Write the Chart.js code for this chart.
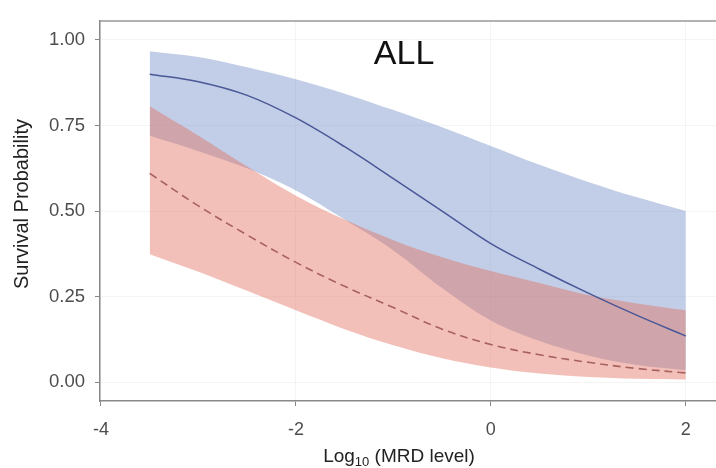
<!DOCTYPE html>
<html>
<head>
<meta charset="utf-8">
<script src="https://cdn.jsdelivr.net/npm/chart.js@4"></script>
<style>
html, body { margin: 0; padding: 0; background: #fff; }
</style>
</head>
<body>
<canvas id="mrdChart" width="716" height="468"></canvas>
<script>
// log10 MRD level on x, survival probability on y
const mrdLevels = [-3.5, -3, -2.5, -2, -1.5, -1, -0.5, 0, 0.5, 1, 1.5, 2];

// blue group (solid line)
const blueFit  = [0.90, 0.878, 0.838, 0.772, 0.688, 0.595, 0.50, 0.405, 0.33, 0.26, 0.195, 0.135];
const blueLow  = [0.72, 0.675, 0.625, 0.56, 0.475, 0.385, 0.275, 0.18, 0.12, 0.078, 0.05, 0.035];
const blueHigh = [0.967, 0.95, 0.92, 0.885, 0.843, 0.795, 0.745, 0.69, 0.635, 0.585, 0.54, 0.50];

// red group (dashed line)
const redFit  = [0.61, 0.515, 0.43, 0.35, 0.28, 0.218, 0.155, 0.11, 0.08, 0.058, 0.04, 0.027];
const redLow  = [0.374, 0.323, 0.267, 0.21, 0.155, 0.108, 0.07, 0.043, 0.025, 0.015, 0.01, 0.008];
const redHigh = [0.806, 0.72, 0.63, 0.545, 0.475, 0.415, 0.365, 0.325, 0.29, 0.255, 0.23, 0.21];

const xTicks = [-4, -2, 0, 2];
const yTicks = [0, 0.25, 0.5, 0.75, 1];

const pts = ys => mrdLevels.map((x, i) => ({ x: x, y: ys[i] }));

const band = { borderWidth: 0, pointRadius: 0, tension: 0.35 };

// panel border on top, title text, axis titles
const extras = {
  id: "extras",
  afterDraw(chart) {
    const ctx = chart.ctx;
    const area = chart.chartArea;
    const xs = chart.scales.x, ys = chart.scales.y;
    ctx.save();
    ctx.strokeStyle = "#999";
    ctx.lineWidth = 1.5;
    ctx.beginPath();
    ctx.moveTo(area.left, area.top);
    ctx.lineTo(area.right, area.top);
    ctx.stroke();

    ctx.fillStyle = "#111";
    ctx.font = "34px 'Liberation Sans', Arial, sans-serif";
    ctx.textAlign = "center";
    ctx.textBaseline = "alphabetic";
    ctx.fillText("ALL", xs.getPixelForValue(-0.89), ys.getPixelForValue(0.929));

    // y title
    ctx.fillStyle = "#222";
    ctx.font = "20px 'Liberation Sans', Arial, sans-serif";
    ctx.save();
    ctx.translate(22, (area.top + area.bottom) / 2 - 7);
    ctx.rotate(-Math.PI / 2);
    ctx.textBaseline = "middle";
    ctx.fillText("Survival Probability", 0, 0);
    ctx.restore();

    // Log10 (MRD level)
    const big = "19px 'Liberation Sans', Arial, sans-serif";
    const small = "13px 'Liberation Sans', Arial, sans-serif";
    ctx.textAlign = "left";
    ctx.font = big;
    const w1 = ctx.measureText("Log").width;
    const w3 = ctx.measureText(" (MRD level)").width;
    ctx.font = small;
    const w2 = ctx.measureText("10").width;
    const cx = (area.left + area.right) / 2 - 9;
    const base = 462;
    let x0 = cx - (w1 + w2 + w3) / 2;
    ctx.font = big;
    ctx.fillText("Log", x0, base);
    ctx.font = small;
    ctx.fillText("10", x0 + w1, base + 4);
    ctx.font = big;
    ctx.fillText(" (MRD level)", x0 + w1 + w2, base);
    ctx.restore();
  }
};

const ctx = document.getElementById("mrdChart").getContext("2d");

new Chart(ctx, {
  type: "line",
  data: {
    datasets: [
      Object.assign({ data: pts(blueLow), fill: false, order: 5 }, band),
      Object.assign({ data: pts(blueHigh), fill: 0, backgroundColor: "rgba(115,143,200,0.44)", order: 4 }, band),
      Object.assign({ data: pts(redLow), fill: false, order: 3 }, band),
      Object.assign({ data: pts(redHigh), fill: 2, backgroundColor: "rgba(225,108,90,0.43)", order: 2 }, band),
      {
        data: pts(blueFit), borderColor: "#4a5796", borderWidth: 1.5,
        pointRadius: 0, fill: false, tension: 0.35, order: 1
      },
      {
        data: pts(redFit), borderColor: "#a8625e", borderWidth: 1.6, borderDash: [8, 5],
        pointRadius: 0, fill: false, tension: 0.35, order: 0
      }
    ]
  },
  options: {
    responsive: false,
    animation: false,
    layout: { padding: { left: 0, right: 0, top: 11, bottom: 0 } },
    scales: {
      x: {
        type: "linear",
        min: -4.01,
        max: 2.31,
        afterBuildTicks: s => { s.ticks = xTicks.map(v => ({ value: v })); },
        afterFit: s => { s.height = 67; },
        grid: { color: "#f4f4f4", tickColor: "#888", tickLength: 5 },
        border: { display: true, color: "#888", width: 1.5 },
        ticks: {
          color: "#4d4d4d", padding: 13,
          font: { family: "'Liberation Sans', Arial, sans-serif", size: 18 },
          callback: v => String(v)
        }
      },
      y: {
        min: -0.055,
        max: 1.055,
        afterBuildTicks: s => { s.ticks = yTicks.map(v => ({ value: v })); },
        afterFit: s => { s.width = 100; },
        grid: { color: "#f4f4f4", tickColor: "#888", tickLength: 5 },
        border: { display: true, color: "#888", width: 1.5 },
        ticks: {
          color: "#4d4d4d", padding: 10,
          font: { family: "'Liberation Sans', Arial, sans-serif", size: 18.5 },
          callback: v => v.toFixed(2)
        }
      }
    },
    plugins: { legend: { display: false }, tooltip: { enabled: false } }
  },
  plugins: [extras]
});
</script>
</body>
</html>
